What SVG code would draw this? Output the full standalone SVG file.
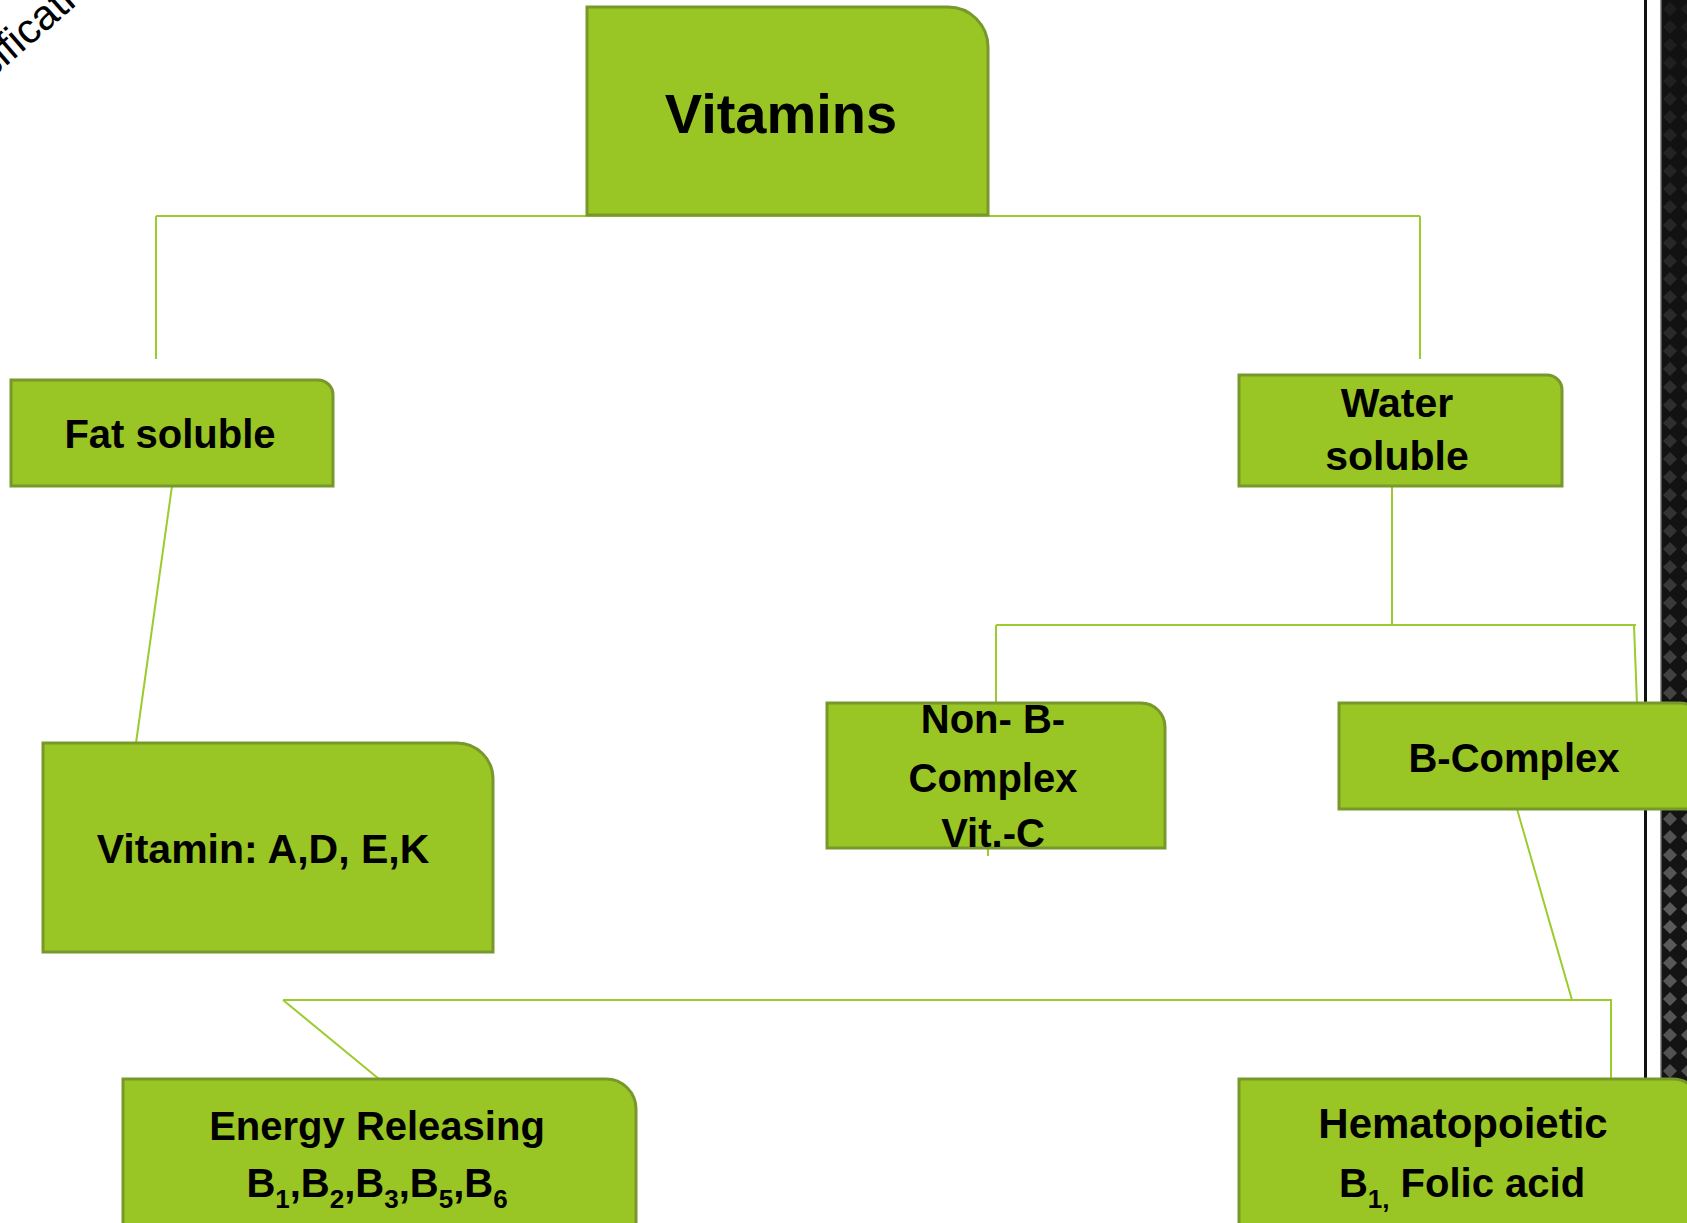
<svg xmlns="http://www.w3.org/2000/svg" width="1687" height="1223" viewBox="0 0 1687 1223">
<style>
.node{fill:#99c624;stroke:#77982a;stroke-width:3}
.lbl{font-family:"Liberation Sans",Arial,sans-serif;font-weight:bold;fill:#000;text-anchor:middle}
.con{fill:none;stroke:#9ccb2e;stroke-width:2}
</style>
<defs>
<pattern id="dia" x="1661" y="0" width="18" height="18" patternUnits="userSpaceOnUse">
<rect width="18" height="18" fill="#141414"/>
<path d="M9 2 L16 9 L9 16 L2 9 Z" fill="#5f5f5f"/>
</pattern>
<linearGradient id="shade" x1="0" y1="0" x2="0" y2="1">
<stop offset="0" stop-color="#111" stop-opacity="0.85"/>
<stop offset="0.45" stop-color="#111" stop-opacity="0.55"/>
<stop offset="0.75" stop-color="#111" stop-opacity="0.05"/>
<stop offset="1" stop-color="#111" stop-opacity="0.3"/>
</linearGradient>
</defs>
<rect width="1687" height="1223" fill="#fff"/>
<g id="edge-strip">
<rect x="1644" y="0" width="3" height="1223" fill="#111"/>
<rect x="1661" y="0" width="26" height="1223" fill="url(#dia)"/>
<rect x="1661" y="0" width="26" height="1223" fill="url(#shade)"/>
<rect x="1660" y="0" width="1.5" height="1223" fill="#999"/>
</g>
<text x="-74" y="136" transform="rotate(-41 -74 136)" style="font-family:'Liberation Sans',Arial,sans-serif;font-size:42px;fill:#000">Classification</text>
<g id="connectors">
<path class="con" d="M156 216 H1420 M156 216 V359 M1420 216 V359"/>
<path class="con" d="M172 486 L136 743"/>
<path class="con" d="M1392 473 V625 M996 625 H1636 M996 625 V704 M1634 625 L1637 704"/>
<path class="con" d="M988 838 V856"/>
<path class="con" d="M1517 809 L1572 1000 M283 1000 H1611 V1079 M283 1000 L379 1079"/>
</g>
<g id="vitamins">
<path class="node" d="M587 7 H948 A40 40 0 0 1 988 47 V215 H587 Z"/>
<text class="lbl" x="781" y="133" style="font-size:56px">Vitamins</text>
</g>
<g id="fat-soluble">
<path class="node" d="M11 380 H318 A15 15 0 0 1 333 395 V486 H11 Z"/>
<text class="lbl" x="170" y="448" style="font-size:40px">Fat soluble</text>
</g>
<g id="water-soluble">
<path class="node" d="M1239 375 H1547 A15 15 0 0 1 1562 390 V486 H1239 Z"/>
<text class="lbl" x="1397" y="417" style="font-size:41px">Water</text>
<text class="lbl" x="1397" y="470" style="font-size:41px">soluble</text>
</g>
<g id="vitamin-adek">
<path class="node" d="M43 743 H457 A36 36 0 0 1 493 779 V952 H43 Z"/>
<text class="lbl" x="263" y="863" style="font-size:41px">Vitamin: A,D, E,K</text>
</g>
<g id="non-b-complex">
<path class="node" d="M827 703 H1141 A24 24 0 0 1 1165 727 V848 H827 Z"/>
<text class="lbl" x="993" y="733" style="font-size:40px">Non- B-</text>
<text class="lbl" x="993" y="792" style="font-size:40px">Complex</text>
<text class="lbl" x="993" y="847" style="font-size:40px">Vit.-C</text>
</g>
<g id="b-complex">
<path class="node" d="M1339 703 H1680 A20 20 0 0 1 1700 723 V809 H1339 Z"/>
<text class="lbl" x="1514" y="772" style="font-size:40px">B-Complex</text>
</g>
<g id="energy-releasing">
<path class="node" d="M123 1079 H606 A30 30 0 0 1 636 1109 V1240 H123 Z"/>
<text class="lbl" x="377" y="1140" style="font-size:40px">Energy Releasing</text>
<text class="lbl" x="377" y="1197" style="font-size:40px">B<tspan dy="11" style="font-size:26px">1</tspan><tspan dy="-11">,B</tspan><tspan dy="11" style="font-size:26px">2</tspan><tspan dy="-11">,B</tspan><tspan dy="11" style="font-size:26px">3</tspan><tspan dy="-11">,B</tspan><tspan dy="11" style="font-size:26px">5</tspan><tspan dy="-11">,B</tspan><tspan dy="11" style="font-size:26px">6</tspan></text>
</g>
<g id="hematopoietic">
<path class="node" d="M1239 1079 H1673 A27 27 0 0 1 1700 1106 V1240 H1239 Z"/>
<text class="lbl" x="1463" y="1138" style="font-size:42px">Hematopoietic</text>
<text class="lbl" x="1462" y="1197" style="font-size:40px">B<tspan dy="11" style="font-size:26px">1,</tspan><tspan dy="-11"> Folic acid</tspan></text>
</g>
</svg>
